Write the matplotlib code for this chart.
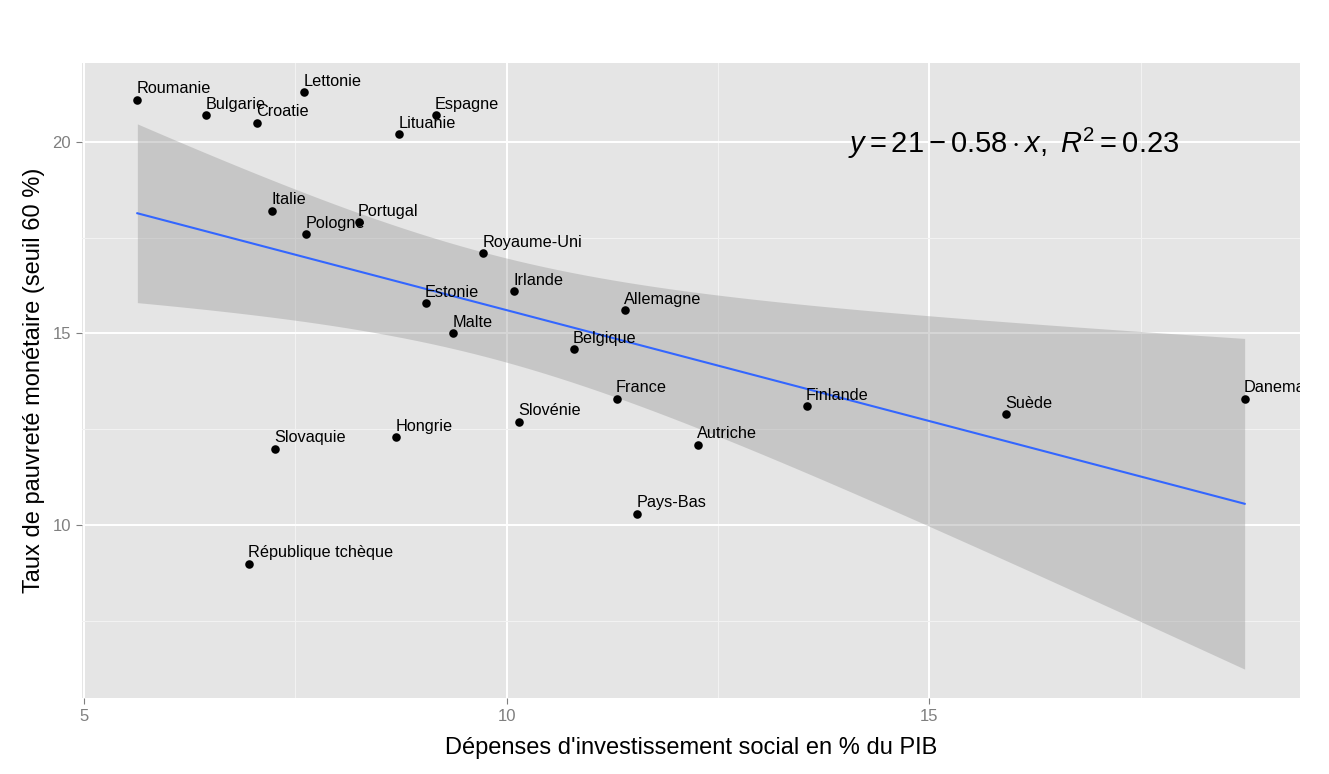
import numpy as np
import matplotlib
matplotlib.use("Agg")
import matplotlib.pyplot as plt
from matplotlib.ticker import FixedLocator

plt.rcParams['font.family'] = ['Liberation Sans', 'DejaVu Sans']
plt.rcParams['mathtext.fontset'] = 'custom'
plt.rcParams['mathtext.rm'] = 'Liberation Sans'
plt.rcParams['mathtext.it'] = 'Liberation Sans:italic'

countries = ["Roumanie", "Bulgarie", "Croatie", "Lettonie", "Lituanie", "Espagne",
             "Italie", "Pologne", "Portugal", "Royaume-Uni", "Estonie", "Irlande",
             "Allemagne", "Malte", "Belgique", "France", "Slovénie", "Hongrie",
             "Autriche", "Slovaquie", "République tchèque", "Pays-Bas", "Finlande",
             "Suède", "Danemark"]
invest = [5.63, 6.44, 7.04, 7.60, 8.73, 9.16,
          7.22, 7.63, 8.25, 9.72, 9.04, 10.09,
          11.40, 9.37, 10.79, 11.30, 10.14, 8.69,
          12.26, 7.26, 6.95, 11.54, 13.55,
          15.91, 18.73]
poverty = [21.1, 20.7, 20.5, 21.3, 20.2, 20.7,
           18.2, 17.6, 17.9, 17.1, 15.8, 16.1,
           15.6, 15.0, 14.6, 13.3, 12.7, 12.3,
           12.1, 12.0, 9.0, 10.3, 13.1,
           12.9, 13.3]

x = np.array(invest)
y = np.array(poverty)
n = len(x)
slope, intercept = np.polyfit(x, y, 1)
yhat = intercept + slope * x
resid = y - yhat
s = np.sqrt(np.sum(resid ** 2) / (n - 2))
sxx = np.sum((x - x.mean()) ** 2)
r2 = 1 - np.sum(resid ** 2) / np.sum((y - y.mean()) ** 2)
t_crit = 2.0687  # t(0.975, df=23)
xs = np.linspace(x.min(), x.max(), 80)
fit = intercept + slope * xs
se = s * np.sqrt(1 / n + (xs - x.mean()) ** 2 / sxx)
lo, hi = fit - t_crit * se, fit + t_crit * se

fig = plt.figure(figsize=(13.29, 7.74), dpi=100)
ax = fig.add_axes([82 / 1329, 1 - 698 / 774, (1300 - 82) / 1329, (698 - 63) / 774])
ax.set_facecolor('#E5E5E5')
for sp in ax.spines.values():
    sp.set_visible(False)

# limits with ggplot-like expansion
xmin, xmax = x.min(), x.max()
xr = xmax - xmin
ax.set_xlim(xmin - 0.05 * xr, xmax + 0.05 * xr)
ymin = min(y.min(), lo.min()); ymax = max(y.max(), hi.max())
yr = ymax - ymin
ax.set_ylim(ymin - 0.05 * yr, ymax + 0.05 * yr)

ax.xaxis.set_major_locator(FixedLocator([5, 10, 15]))
ax.yaxis.set_major_locator(FixedLocator([10, 15, 20]))
ax.xaxis.set_minor_locator(FixedLocator([7.5, 12.5, 17.5]))
ax.yaxis.set_minor_locator(FixedLocator([7.5, 12.5, 17.5]))
ax.grid(which='major', color='white', lw=1.4)
ax.grid(which='minor', color='#F2F2F2', lw=0.8)
ax.set_axisbelow(True)
ax.tick_params(which='major', direction='out', length=4, width=0.8, color='#7F7F7F',
               labelcolor='#7F7F7F', labelsize=12, pad=4)
ax.tick_params(which='minor', length=0)

ax.fill_between(xs, lo, hi, color='#999999', alpha=0.4, lw=0, zorder=2)
ax.plot(xs, fit, color='#3366FF', lw=1.5, zorder=3)
ax.scatter(x, y, s=38, color='black', zorder=4, linewidths=0)
for cx, cy, name in zip(x, y, countries):
    ax.annotate(name, (cx, cy), xytext=(-0.5, 4.5), textcoords='offset points',
                ha='left', va='baseline', fontsize=11.7, color='black',
                clip_on=True, annotation_clip=True, zorder=5)

eq = r'$y = %.2g - %.2g \cdot x,\ R^2 = %.2g$' % (intercept, -slope, r2)
ax.text(16.0, 19.95, eq, ha='center', va='center', fontsize=21, color='black', zorder=6)

ax.set_xlabel("Dépenses d'investissement social en % du PIB", fontsize=17, labelpad=9)
ax.set_ylabel("Taux de pauvreté monétaire (seuil 60 %)", fontsize=17, labelpad=5)

fig.savefig('out.png', dpi=100)
